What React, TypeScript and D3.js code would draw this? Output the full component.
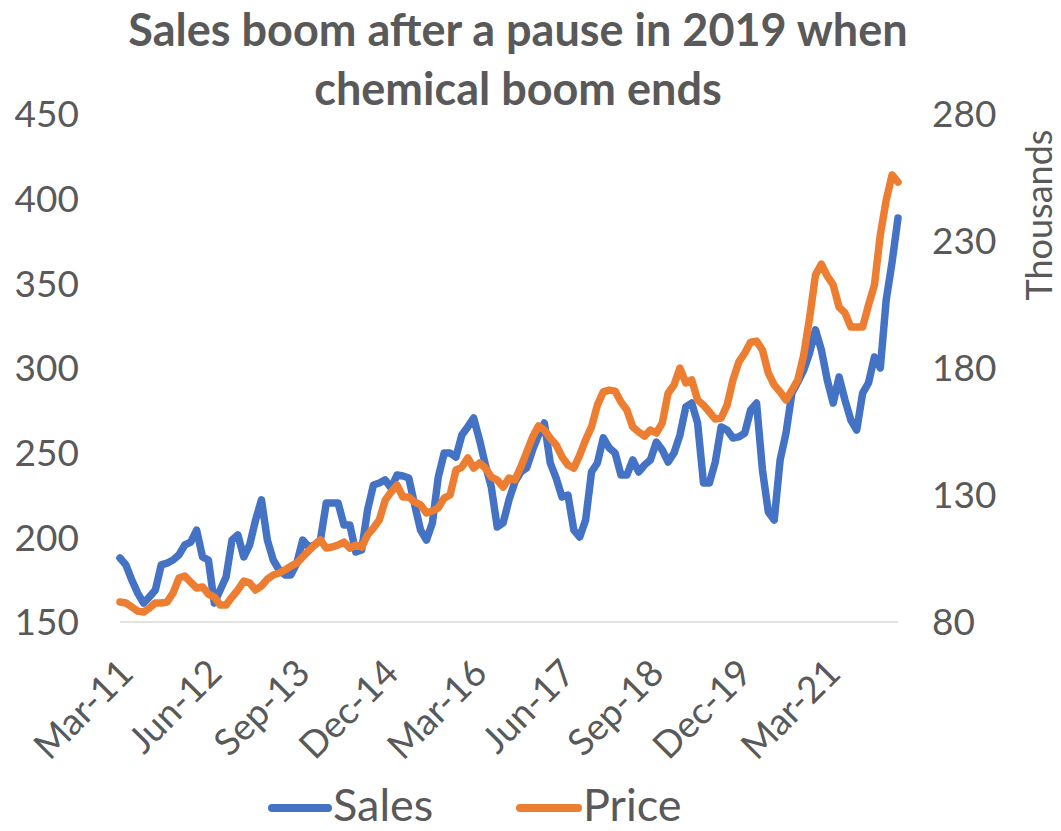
import * as d3 from 'd3';
import React, { useEffect } from 'react';

// monthly series, Mar-11 .. Mar-22
const sales = [
  187.8, 183.7, 174.8, 167.1, 161.2, 164.8, 168.9, 183.7, 184.8, 186.6,
  189.6, 195.5, 197.2, 204.3, 188.4, 186.6, 161.2, 168.9, 176.6, 198.4,
  201.4, 188.4, 195.5, 210.2, 222.1, 198.4, 186.6, 180.7, 177.8, 177.8,
  184.8, 198.4, 194.3, 195.5, 198.4, 220.3, 220.3, 220.3, 207.3, 207.3,
  191.3, 192.5, 216.1, 230.9, 232.1, 233.9, 229.1, 236.8, 236.2, 235.0,
  219.1, 204.3, 198.4, 208.5, 235.6, 249.8, 249.8, 247.4, 260.4, 265.2,
  270.5, 257.5, 242.7, 229.7, 206.1, 208.5, 222.1, 232.7, 238.6, 241.0,
  251.6, 260.4, 267.5, 243.9, 235.0, 223.8, 225.0, 204.3, 200.2, 210.2,
  238.6, 243.9, 258.7, 252.8, 249.8, 236.8, 236.8, 245.7, 238.6, 242.7,
  245.7, 256.3, 251.6, 244.5, 249.8, 260.4, 277.0, 279.3, 267.5, 232.1,
  232.1, 244.5, 265.2, 263.4, 258.7, 259.3, 261.6, 275.2, 279.3, 239.8,
  215.0, 210.2, 245.7, 261.6, 285.2, 291.7, 298.8, 308.9, 322.5, 310.6,
  292.9, 279.3, 294.7, 281.1, 269.3, 263.4, 285.2, 291.2, 306.5, 300.0,
  340.2, 362.6, 388.6
]

// price in thousands
const price = [
  87.9, 87.5, 85.9, 84.3, 83.9, 85.5, 87.5, 87.5, 87.9, 91.4,
  97.3, 98.1, 95.7, 93.4, 93.8, 91.0, 89.8, 86.7, 86.7, 89.8,
  92.6, 96.1, 95.4, 92.6, 94.2, 96.9, 98.5, 99.3, 100.5, 102.0,
  103.2, 105.6, 108.0, 110.3, 112.3, 109.1, 109.5, 110.3, 111.5, 109.1,
  110.3, 109.5, 114.3, 117.0, 120.2, 128.0, 131.2, 133.9, 129.2, 129.2,
  127.2, 126.1, 122.9, 123.7, 124.9, 128.8, 130.0, 139.8, 141.0, 144.6,
  140.6, 142.6, 140.6, 137.1, 135.9, 133.1, 136.7, 135.9, 141.0, 146.9,
  152.8, 157.2, 155.6, 152.4, 149.7, 145.0, 141.8, 140.6, 145.7, 151.7,
  156.8, 165.4, 170.6, 171.3, 170.9, 166.6, 163.5, 156.8, 154.8, 153.2,
  155.6, 154.4, 158.3, 170.2, 173.3, 180.0, 174.1, 175.3, 167.4, 165.4,
  162.7, 159.9, 160.3, 165.4, 175.3, 182.4, 185.9, 190.2, 190.6, 187.1,
  178.0, 173.3, 170.6, 167.4, 171.3, 175.3, 185.1, 199.7, 216.6, 220.9,
  216.2, 212.7, 204.0, 201.7, 196.1, 196.1, 196.1, 204.8, 212.7, 232.4,
  246.1, 256.0, 253.2
]

const xTickLabels = ['Mar-11', 'Jun-12', 'Sep-13', 'Dec-14', 'Mar-16', 'Jun-17', 'Sep-18', 'Dec-19', 'Mar-21']
const xTickStep = 15
const leftTicks = [150, 200, 250, 300, 350, 400, 450]
const rightTicks = [80, 130, 180, 230, 280]

const titleLines = ['Sales boom after a pause in 2019 when', 'chemical boom ends']

const W = 1061
const H = 831
const plot = { left: 120, right: 898, top: 114, bottom: 622 }
const font = "Lato, 'Open Sans', sans-serif"
const textColor = '#595959'
const blue = '#4472C4'
const orange = '#ED7D31'

export default function App() {
  useEffect(() => {
    document.body.style.margin = '0'
  }, [])

  const x = d3.scaleLinear().domain([0, sales.length - 1]).range([plot.left, plot.right])
  const yL = d3.scaleLinear().domain([150, 450]).range([plot.bottom, plot.top])
  const yR = d3.scaleLinear().domain([80, 280]).range([plot.bottom, plot.top])

  const salesLine = d3.line<number>().x((d, i) => x(i)).y(d => yL(d))
  const priceLine = d3.line<number>().x((d, i) => x(i)).y(d => yR(d))

  return (
    <svg width={W} height={H} style={{ display: 'block', background: '#fff' }} fontFamily={font}>
      {/* title */}
      {titleLines.map((t, i) => (
        <text key={t} x={518} y={46 + i * 59} textAnchor="middle" fontSize={45} fontWeight="bold" fill={textColor}>
          {t}
        </text>
      ))}

      {/* left axis labels */}
      {leftTicks.map(t => (
        <text key={'l' + t} x={79} y={yL(t)} dy="0.36em" textAnchor="end" fontSize={37} fill={textColor}>
          {t}
        </text>
      ))}

      {/* right axis labels */}
      {rightTicks.map(t => (
        <text key={'r' + t} x={932} y={yR(t)} dy="0.36em" textAnchor="start" fontSize={37} fill={textColor}>
          {t}
        </text>
      ))}
      <text transform="translate(1052,215) rotate(-90)" textAnchor="middle" fontSize={36} fill={textColor}>
        Thousands
      </text>

      {/* bottom axis */}
      <line x1={plot.left} x2={plot.right} y1={plot.bottom} y2={plot.bottom} stroke="#d9d9d9" strokeWidth={1.5} />
      {xTickLabels.map((t, i) => (
        <text
          key={t}
          transform={`translate(${x(i * xTickStep) + 6},${plot.bottom + 44}) rotate(-45)`}
          textAnchor="end"
          dy="0.36em"
          fontSize={37}
          fill={textColor}
        >
          {t}
        </text>
      ))}

      {/* series */}
      <path d={salesLine(sales) || ''} fill="none" stroke={blue} strokeWidth={7.5} strokeLinejoin="round" strokeLinecap="round" />
      <path d={priceLine(price) || ''} fill="none" stroke={orange} strokeWidth={7.5} strokeLinejoin="round" strokeLinecap="round" />

      {/* legend */}
      <line x1={272} x2={328} y1={808} y2={808} stroke={blue} strokeWidth={8} strokeLinecap="round" />
      <text x={333} y={821} fontSize={45} fill={textColor}>Sales</text>
      <line x1={520} x2={578} y1={808} y2={808} stroke={orange} strokeWidth={8} strokeLinecap="round" />
      <text x={583} y={821} fontSize={45} fill={textColor}>Price</text>
    </svg>
  )
}
